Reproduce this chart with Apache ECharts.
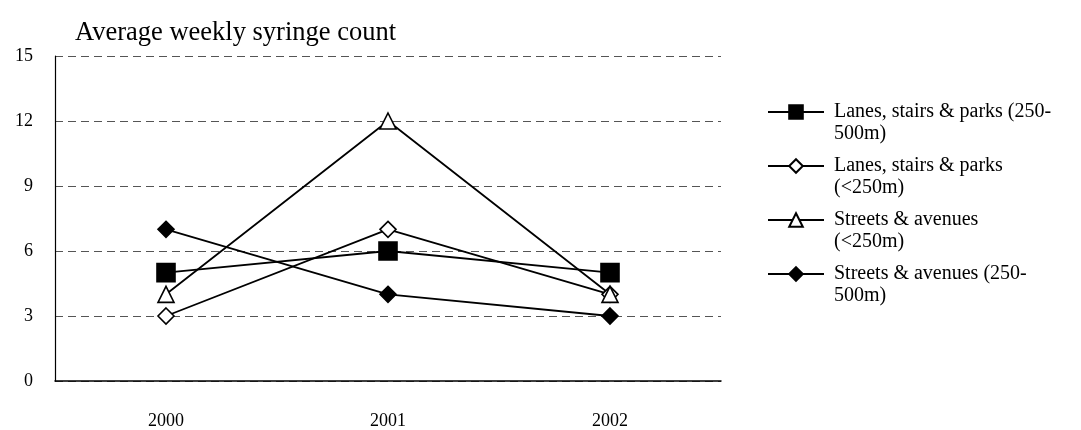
<!DOCTYPE html>
<html>
<head>
<meta charset="utf-8">
<script src="https://cdn.jsdelivr.net/npm/echarts@6/dist/echarts.min.js"></script>
<style>
html,body{margin:0;padding:0;background:#fff;}
#chart{width:1081px;height:430px;}
</style>
</head>
<body>
<div id="chart"></div>
<script>
const categories = ['2000', '2001', '2002'];
const seriesNames = [
  'Lanes, stairs & parks (250-\n500m)',
  'Lanes, stairs & parks\n(<250m)',
  'Streets & avenues\n(<250m)',
  'Streets & avenues (250-\n500m)'
];
const lanesFar = [5, 6, 5];
const lanesNear = [3, 7, 4];
const streetsNear = [4, 12, 4];
const streetsFar = [7, 4, 3];
const yTicks = [0, 3, 6, 9, 12, 15];
const titleText = 'Average weekly syringe count';

const FONT = '"Liberation Serif", "DejaVu Serif", serif';
const chart = echarts.init(document.getElementById('chart'), null, {renderer: 'canvas'});

function mk(name, data, symbol, size, filled) {
  return {
    name: name,
    type: 'line',
    data: data,
    symbol: symbol,
    symbolSize: size,
    showAllSymbol: true,
    lineStyle: {color: '#000', width: 1.8},
    itemStyle: {color: filled ? '#000' : '#fff', borderColor: '#000', borderWidth: 1.6},
    emphasis: {disabled: true},
    animation: false
  };
}

chart.setOption({
  animation: false,
  backgroundColor: '#fff',
  title: {
    text: titleText,
    left: 70, top: 15,
    textStyle: {fontFamily: FONT, fontSize: 26.5, fontWeight: 'normal', color: '#000'}
  },
  grid: {left: 55, right: 360, top: 56, bottom: 49, containLabel: false},
  legend: {
    orient: 'vertical',
    left: 762, top: 74,
    itemWidth: 56, itemHeight: 17,
    itemGap: -12,
    data: seriesNames,
    formatter: function (n) { return '\n' + n; },
    textStyle: {fontFamily: FONT, fontSize: 20, color: '#000', lineHeight: 22, padding: [0, 0, 0, 5]},
    selectedMode: false
  },
  xAxis: {
    type: 'category',
    data: categories,
    boundaryGap: true,
    axisLine: {lineStyle: {color: '#000', width: 1.5}},
    axisTick: {show: false},
    axisLabel: {fontFamily: FONT, fontSize: 18, color: '#000', margin: 31},
    splitLine: {show: false}
  },
  yAxis: {
    type: 'value',
    min: yTicks[0], max: yTicks[yTicks.length - 1], interval: 3,
    axisLine: {show: true, lineStyle: {color: '#000', width: 1.2}},
    axisTick: {show: false},
    axisLabel: {fontFamily: FONT, fontSize: 18, color: '#000', margin: 22},
    splitLine: {show: true, lineStyle: {color: '#555', type: [8, 5], width: 1}}
  },
  series: [
    mk(seriesNames[0], lanesFar, 'rect', 18, true),
    mk(seriesNames[1], lanesNear, 'diamond', 16, false),
    mk(seriesNames[2], streetsNear, 'triangle', 16, false),
    mk(seriesNames[3], streetsFar, 'diamond', 16, true)
  ]
});
</script>
</body>
</html>
